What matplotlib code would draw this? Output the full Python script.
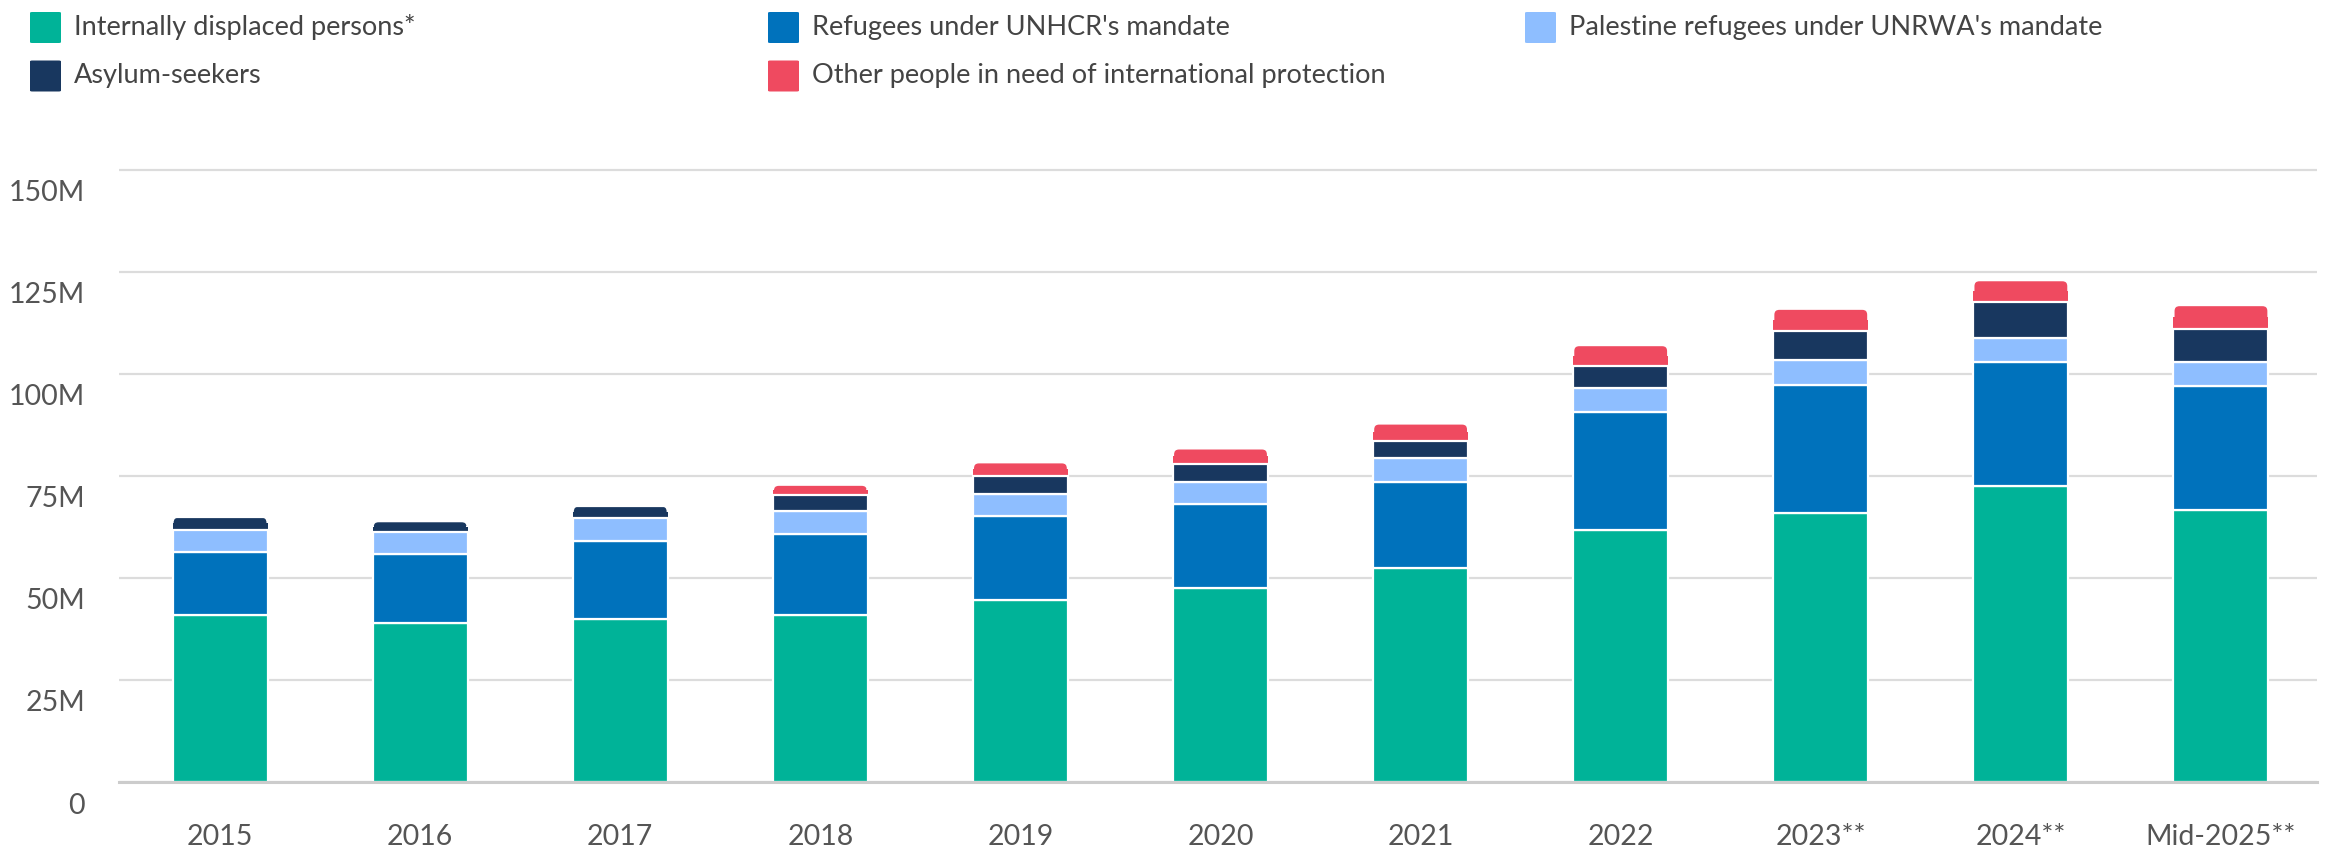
import matplotlib
matplotlib.use("Agg")
import matplotlib.pyplot as plt
import matplotlib.transforms as mtransforms
from matplotlib.patches import FancyBboxPatch, Rectangle
import numpy as np

# ---------------- data (millions) ----------------
categories = ["2015", "2016", "2017", "2018", "2019", "2020", "2021", "2022",
              "2023**", "2024**", "Mid-2025**"]
idp = [40.8, 39.0, 39.8, 40.9, 44.6, 47.4, 52.4, 61.6, 66.0, 72.5, 66.5]
refugees_unhcr = [15.6, 16.9, 19.1, 19.8, 20.6, 20.6, 21.0, 29.1, 31.3, 30.3, 30.4]
palestine_unrwa = [5.3, 5.3, 5.7, 5.6, 5.4, 5.5, 5.9, 5.8, 6.0, 6.0, 6.0]
asylum_seekers = [3.3, 2.7, 3.1, 3.9, 4.4, 4.3, 4.1, 5.3, 7.1, 8.7, 8.1]
other_protection = [0.0, 0.0, 0.0, 2.6, 3.3, 3.9, 4.4, 5.2, 5.5, 5.4, 5.8]

series_names = ["Internally displaced persons*", "Refugees under UNHCR's mandate",
                "Palestine refugees under UNRWA's mandate", "Asylum-seekers",
                "Other people in need of international protection"]
yticks = [0, 25, 50, 75, 100, 125, 150]
ytick_labels = ["0", "25M", "50M", "75M", "100M", "125M", "150M"]

colors = ["#00B398", "#0072BC", "#8EBEFF", "#18375F", "#EF4A60"]

plt.rcParams["font.family"] = ["Lato", "DejaVu Sans"]

W, H = 2328, 856
fig = plt.figure(figsize=(W / 100, H / 100), dpi=100)
ax_left, ax_right = 119, 2317
y_base, y_150 = 782, 169.5
px_per_m = (y_base - y_150) / 150
ax_top = y_150 - 1.5 * px_per_m
ax = fig.add_axes([ax_left / W, 1 - y_base / H, (ax_right - ax_left) / W,
                   (y_base - ax_top) / H])

series = [idp, refugees_unhcr, palestine_unrwa, asylum_seekers, other_protection]
x = np.arange(len(categories))
bottom = np.zeros(len(categories))
width = 0.475
containers = []
for vals, col in zip(series, colors):
    v = np.array(vals)
    bc = ax.bar(x, v, width, bottom=bottom, color=col, edgecolor="white",
                linewidth=1.6, zorder=3)
    containers.append(bc)
    bottom += v

ax.set_xlim(-0.505, 10.48)
ax.set_ylim(0, 151.5)

# rounded top corners on the topmost segment of each stack
px_per_x = (ax_right - ax_left) / (10.48 + 0.505)
radius_px = 6
rx = radius_px / px_per_x
aspect = (radius_px / px_per_m) / rx
for i in range(len(categories)):
    top_k = max(k for k, s in enumerate(series) if s[i] > 0)
    rect = containers[top_k][i]
    rect.set_visible(False)
    x0, y0 = rect.get_x(), rect.get_y()
    w, h = rect.get_width(), rect.get_height()
    fb = FancyBboxPatch((x0, y0), w, h,
                        boxstyle=f"round,pad=0,rounding_size={rx}",
                        mutation_aspect=aspect, facecolor=colors[top_k],
                        edgecolor="white", linewidth=1.6, zorder=2.9)
    ax.add_patch(fb)
    ax.add_patch(Rectangle((x0, y0), w, h / 2, facecolor=colors[top_k],
                           edgecolor="none", zorder=2.95))

ax.set_yticks(yticks)
ax.set_yticklabels([])
ax.tick_params(axis="y", length=0)
ax.grid(axis="y", color="#dcdcdc", linewidth=1.6, zorder=0)
ax.set_axisbelow(True)
for s in ["top", "right", "left"]:
    ax.spines[s].set_visible(False)
ax.spines["bottom"].set_color("#cccccc")
ax.spines["bottom"].set_linewidth(2.2)
ax.spines["bottom"].set_zorder(4)

# y tick labels, offset below gridlines
offset = mtransforms.ScaledTranslation(0, -23.5 / 100, fig.dpi_scale_trans)
trans = mtransforms.blended_transform_factory(fig.transFigure, ax.transData) + offset
for t, lab in zip(yticks, ytick_labels):
    ax.text(85 / W, t, lab, transform=trans, ha="right", va="center",
            fontsize=20.5, color="#555555")

ax.set_xticks(x)
ax.set_xticklabels(categories, fontsize=20.5, color="#555555")
ax.tick_params(axis="x", length=0, pad=30)

# legend drawn manually
leg_items = [
    (0, 30, 27.5), (1, 768, 27.5), (2, 1525, 27.5),
    (3, 30, 76), (4, 768, 76),
]
sq = 31
for idx, px, py in leg_items:
    p = FancyBboxPatch((px / W, 1 - (py + sq / 2) / H), sq / W, sq / H,
                       boxstyle="round,pad=0,rounding_size=0.001",
                       transform=fig.transFigure, facecolor=colors[idx],
                       edgecolor="none")
    fig.patches.append(p)
    fig.text((px + sq + 13) / W, 1 - py / H, series_names[idx],
             ha="left", va="center", fontsize=19.5, color="#444444")

fig.savefig("out.png", dpi=100, facecolor="white")
